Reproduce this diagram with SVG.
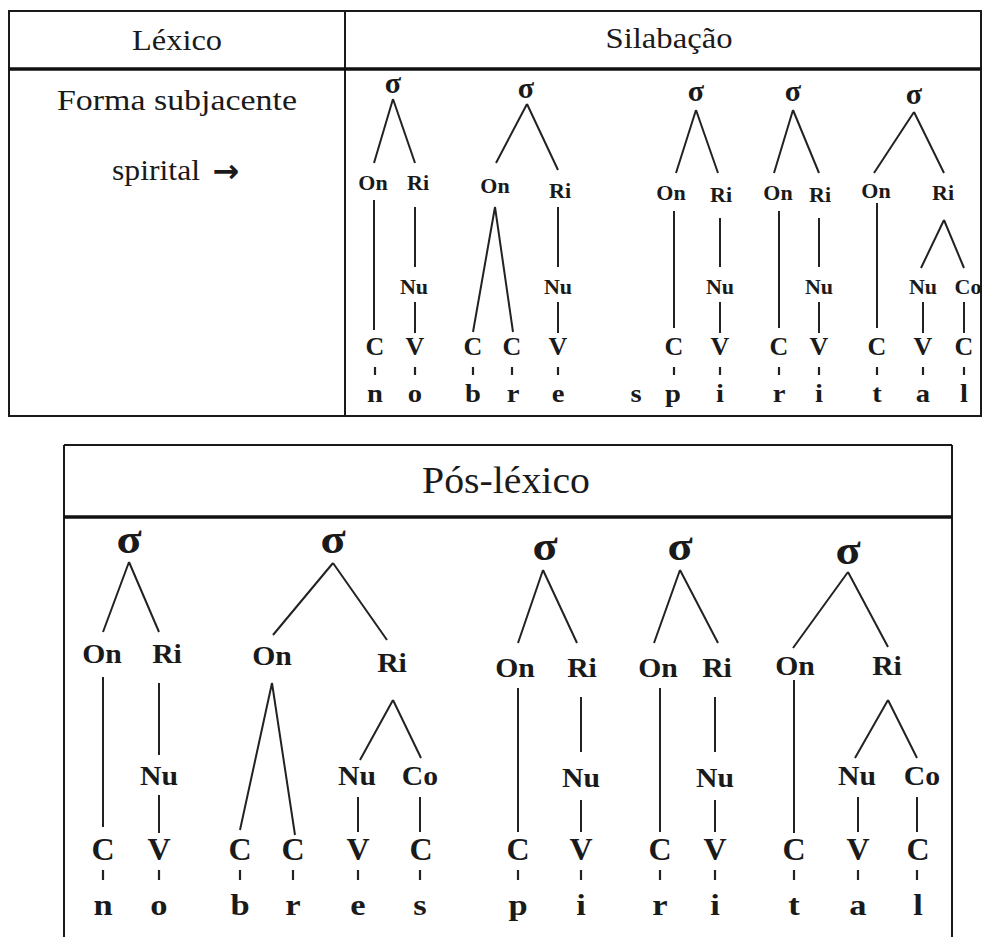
<svg xmlns="http://www.w3.org/2000/svg" width="982" height="937" viewBox="0 0 982 937" font-family="'Liberation Serif', 'Times New Roman', 'DejaVu Serif', serif">
<style>
text{font-family:"Liberation Serif","Times New Roman","DejaVu Serif",serif;fill:#1a1a1a;text-anchor:middle}
.h{font-size:29px}
.hb{font-size:38px}
.n{font-weight:bold}
.lt{font-size:22px}
.ct{font-size:26px}
.st{font-size:26px}
.gt{font-size:30px}
.lb{font-size:27px}
.cb{font-size:32px}
.sb{font-size:30px}
.gb{font-size:42px}
.ar{font-family:"DejaVu Sans",sans-serif;font-size:32px;font-weight:bold}
.sx{transform-box:fill-box;transform-origin:center;transform:scaleX(1.1)}
.sx2{transform-box:fill-box;transform-origin:center;transform:scaleX(1.15)}
.tbl{stroke:#1a1a1a;stroke-width:2;fill:none}
.sep{stroke:#111;stroke-width:3.5;fill:none}
.e{stroke:#222;stroke-width:2;fill:none}
.tk{stroke:#222;stroke-width:2.2;fill:none}
</style>
<rect width="982" height="937" fill="#fff"/>
<g id="table-top">
<rect class="tbl" x="9" y="11" width="972" height="405"/>
<line class="tbl" x1="345" y1="11" x2="345" y2="416"/>
<line class="sep" x1="9" y1="69" x2="981" y2="69"/>
<text class="h" x="177" y="50" textLength="90" lengthAdjust="spacingAndGlyphs">Léxico</text>
<text class="h" x="669" y="48" textLength="127" lengthAdjust="spacingAndGlyphs">Silabação</text>
<text class="h" x="177" y="110" textLength="240" lengthAdjust="spacingAndGlyphs">Forma subjacente</text>
<text class="h" x="156" y="180" textLength="88" lengthAdjust="spacingAndGlyphs">spirital</text>
<text class="ar" x="226" y="182">→</text>
</g>
<g id="table-bottom">
<line class="tbl" x1="64" y1="445" x2="952" y2="445"/>
<line class="tbl" x1="64" y1="445" x2="64" y2="937"/>
<line class="tbl" x1="952" y1="445" x2="952" y2="937"/>
<line class="sep" x1="64" y1="517" x2="952" y2="517"/>
<text class="hb" x="506" y="493" textLength="168" lengthAdjust="spacingAndGlyphs">Pós-léxico</text>
</g>
<g id="connectors">
<path class="e" d="M393,99L374,163M393,99L415,163M374,200V330M415,207V267M415,302V333"/>
<path class="tk" d="M375,367V375M415,367V375"/>
<path class="e" d="M527,104L496,163M527,104L558,170M495,207L473,332M495,207L513,332M558,207V267M558,302V333"/>
<path class="tk" d="M473,367V375M512,367V375M558,367V375"/>
<path class="e" d="M696,110L676,173M696,110L718,173M674,211V328M720,218V267M720,302V333"/>
<path class="tk" d="M674,367V375M720,367V375"/>
<path class="e" d="M793,110L774,173M793,110L819,173M779,211V328M819,218V267M819,302V333"/>
<path class="tk" d="M779,367V375M819,367V375"/>
<path class="e" d="M914,112L874,173M914,112L944,173M877,203V328M944,220L921,268M944,220L964,268M923,302V333M964,302V333"/>
<path class="tk" d="M877,367V375M923,367V375M964,367V375"/>
<path class="e" d="M129,562L103,632M129,562L159,632M103,677V827M159,683V755M159,795V833"/>
<path class="tk" d="M103,870V880M159,870V880"/>
<path class="e" d="M333,563L273,635M333,563L387,640M272,683L240,830M272,683L295,835M393,700L360,760M393,700L421,758M358,797V832M420,797V832"/>
<path class="tk" d="M240,870V880M293,870V880M358,870V880M420,870V880"/>
<path class="e" d="M543,570L518,643M543,570L577,643M518,688V832M581,697V752M581,800V832"/>
<path class="tk" d="M518,870V880M581,870V880"/>
<path class="e" d="M680,570L654,643M680,570L718,643M660,688V832M715,697V752M715,800V832"/>
<path class="tk" d="M660,870V880M715,870V880"/>
<path class="e" d="M848,572L793,648M848,572L888,647M794,680V833M888,700L855,758M888,700L917,758M858,797V832M917,797V832"/>
<path class="tk" d="M794,870V880M858,870V880M917,870V880"/>
</g>
<g id="t1">
<g id="t1-s"><text class="gt n" x="393" y="93">σ</text></g>
<g id="t1-on"><text class="lt n" x="373" y="190">On</text></g>
<g id="t1-ri"><text class="lt n" x="418" y="190">Ri</text></g>
<g id="t1-nu"><text class="lt n" x="414" y="294">Nu</text></g>
<g id="t1-c"><text class="ct n" x="375" y="355">C</text></g>
<g id="t1-v"><text class="ct n" x="415" y="355">V</text></g>
<g id="t1-n"><text class="st n sx" x="375" y="402">n</text></g>
<g id="t1-o"><text class="st n sx" x="415" y="402">o</text></g>
</g>
<g id="t2">
<g id="t2-s"><text class="gt n" x="526" y="98">σ</text></g>
<g id="t2-on"><text class="lt n" x="495" y="193">On</text></g>
<g id="t2-ri"><text class="lt n" x="560" y="198">Ri</text></g>
<g id="t2-nu"><text class="lt n" x="558" y="294">Nu</text></g>
<g id="t2-c1"><text class="ct n" x="473" y="355">C</text></g>
<g id="t2-c2"><text class="ct n" x="512" y="355">C</text></g>
<g id="t2-v"><text class="ct n" x="558" y="355">V</text></g>
<g id="t2-b"><text class="st n sx" x="473" y="402">b</text></g>
<g id="t2-r"><text class="st n sx" x="513" y="402">r</text></g>
<g id="t2-e"><text class="st n sx" x="558" y="402">e</text></g>
</g>
<g id="t3">
<g id="t3-s"><text class="gt n" x="696" y="101">σ</text></g>
<g id="t3-on"><text class="lt n" x="671" y="200">On</text></g>
<g id="t3-ri"><text class="lt n" x="721" y="202">Ri</text></g>
<g id="t3-nu"><text class="lt n" x="720" y="294">Nu</text></g>
<g id="t3-c"><text class="ct n" x="674" y="355">C</text></g>
<g id="t3-v"><text class="ct n" x="720" y="355">V</text></g>
<g id="t3-s1"><text class="st n sx" x="636" y="402">s</text></g>
<g id="t3-p"><text class="st n sx" x="673" y="402">p</text></g>
<g id="t3-i"><text class="st n sx" x="720" y="402">i</text></g>
</g>
<g id="t4">
<g id="t4-s"><text class="gt n" x="793" y="101">σ</text></g>
<g id="t4-on"><text class="lt n" x="778" y="200">On</text></g>
<g id="t4-ri"><text class="lt n" x="820" y="202">Ri</text></g>
<g id="t4-nu"><text class="lt n" x="819" y="294">Nu</text></g>
<g id="t4-c"><text class="ct n" x="779" y="355">C</text></g>
<g id="t4-v"><text class="ct n" x="819" y="355">V</text></g>
<g id="t4-r"><text class="st n sx" x="779" y="402">r</text></g>
<g id="t4-i"><text class="st n sx" x="819" y="402">i</text></g>
</g>
<g id="t5">
<g id="t5-s"><text class="gt n" x="914" y="104">σ</text></g>
<g id="t5-on"><text class="lt n" x="876" y="198">On</text></g>
<g id="t5-ri"><text class="lt n" x="943" y="200">Ri</text></g>
<g id="t5-nu"><text class="lt n" x="923" y="294">Nu</text></g>
<g id="t5-co"><text class="lt n" x="968" y="294">Co</text></g>
<g id="t5-c1"><text class="ct n" x="877" y="355">C</text></g>
<g id="t5-v"><text class="ct n" x="923" y="355">V</text></g>
<g id="t5-c2"><text class="ct n" x="964" y="355">C</text></g>
<g id="t5-t"><text class="st n sx" x="877" y="402">t</text></g>
<g id="t5-a"><text class="st n sx" x="923" y="402">a</text></g>
<g id="t5-l"><text class="st n sx" x="964" y="402">l</text></g>
</g>
<g id="b1">
<g id="b1-s"><text class="gb n sx" x="129" y="553">σ</text></g>
<g id="b1-on"><text class="lb n sx" x="102" y="663">On</text></g>
<g id="b1-ri"><text class="lb n sx" x="167" y="663">Ri</text></g>
<g id="b1-nu"><text class="lb n sx" x="159" y="785">Nu</text></g>
<g id="b1-c"><text class="cb n" x="103" y="860">C</text></g>
<g id="b1-v"><text class="cb n" x="159" y="860">V</text></g>
<g id="b1-n"><text class="sb n sx2" x="103" y="915">n</text></g>
<g id="b1-o"><text class="sb n sx2" x="159" y="915">o</text></g>
</g>
<g id="b2">
<g id="b2-s"><text class="gb n sx" x="333" y="553">σ</text></g>
<g id="b2-on"><text class="lb n sx" x="272" y="665">On</text></g>
<g id="b2-ri"><text class="lb n sx" x="392" y="672">Ri</text></g>
<g id="b2-nu"><text class="lb n sx" x="357" y="785">Nu</text></g>
<g id="b2-co"><text class="lb n sx" x="420" y="785">Co</text></g>
<g id="b2-c1"><text class="cb n" x="240" y="860">C</text></g>
<g id="b2-c2"><text class="cb n" x="293" y="860">C</text></g>
<g id="b2-v"><text class="cb n" x="358" y="860">V</text></g>
<g id="b2-c3"><text class="cb n" x="421" y="860">C</text></g>
<g id="b2-b"><text class="sb n sx2" x="240" y="915">b</text></g>
<g id="b2-r"><text class="sb n sx2" x="293" y="915">r</text></g>
<g id="b2-e"><text class="sb n sx2" x="358" y="915">e</text></g>
<g id="b2-s2"><text class="sb n sx2" x="420" y="915">s</text></g>
</g>
<g id="b3">
<g id="b3-s"><text class="gb n sx" x="545" y="560">σ</text></g>
<g id="b3-on"><text class="lb n sx" x="515" y="677">On</text></g>
<g id="b3-ri"><text class="lb n sx" x="582" y="677">Ri</text></g>
<g id="b3-nu"><text class="lb n sx" x="581" y="787">Nu</text></g>
<g id="b3-c"><text class="cb n" x="518" y="860">C</text></g>
<g id="b3-v"><text class="cb n" x="581" y="860">V</text></g>
<g id="b3-p"><text class="sb n sx2" x="518" y="915">p</text></g>
<g id="b3-i"><text class="sb n sx2" x="581" y="915">i</text></g>
</g>
<g id="b4">
<g id="b4-s"><text class="gb n sx" x="680" y="560">σ</text></g>
<g id="b4-on"><text class="lb n sx" x="658" y="677">On</text></g>
<g id="b4-ri"><text class="lb n sx" x="717" y="677">Ri</text></g>
<g id="b4-nu"><text class="lb n sx" x="715" y="787">Nu</text></g>
<g id="b4-c"><text class="cb n" x="660" y="860">C</text></g>
<g id="b4-v"><text class="cb n" x="715" y="860">V</text></g>
<g id="b4-r"><text class="sb n sx2" x="660" y="915">r</text></g>
<g id="b4-i"><text class="sb n sx2" x="715" y="915">i</text></g>
</g>
<g id="b5">
<g id="b5-s"><text class="gb n sx" x="848" y="564">σ</text></g>
<g id="b5-on"><text class="lb n sx" x="795" y="675">On</text></g>
<g id="b5-ri"><text class="lb n sx" x="887" y="675">Ri</text></g>
<g id="b5-nu"><text class="lb n sx" x="857" y="785">Nu</text></g>
<g id="b5-co"><text class="lb n sx" x="922" y="785">Co</text></g>
<g id="b5-c1"><text class="cb n" x="794" y="860">C</text></g>
<g id="b5-v"><text class="cb n" x="858" y="860">V</text></g>
<g id="b5-c2"><text class="cb n" x="918" y="860">C</text></g>
<g id="b5-t"><text class="sb n sx2" x="794" y="915">t</text></g>
<g id="b5-a"><text class="sb n sx2" x="858" y="915">a</text></g>
<g id="b5-l"><text class="sb n sx2" x="918" y="915">l</text></g>
</g>
</svg>
